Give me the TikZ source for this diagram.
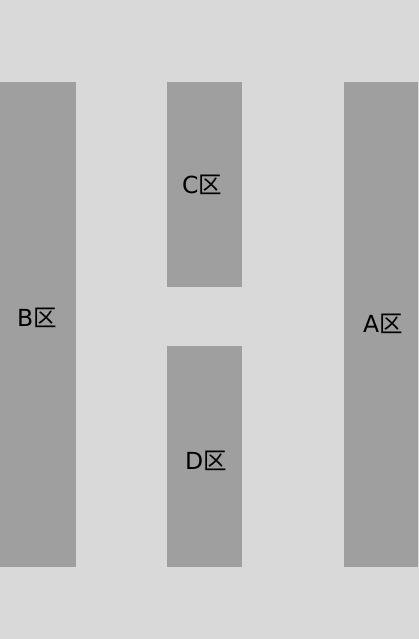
\documentclass[tikz,border=0pt]{standalone}
\usepackage{fontspec}
\setmainfont{DejaVu Sans}
\newfontfamily\cjk{Noto Sans CJK SC}
\usepackage{tikz}
\definecolor{groundgray}{HTML}{D9D9D9}
\definecolor{zonegray}{HTML}{9F9F9F}
\newcommand{\qu}{{\cjk 区}}

\begin{document}
\begin{tikzpicture}[
  x=1pt, y=-1pt,
  zone/.style={fill=zonegray, draw=none},
  zonelabel/.style={font=\fontsize{23.5}{28}\selectfont, inner sep=0pt},
]
  % --- ground ------------------------------------------------------
  \fill[groundgray] (0,0) rectangle (419,639);
  \useasboundingbox (0,0) rectangle (419,639);

  % --- zones -------------------------------------------------------
  \fill[zone] (0,82) rectangle (76,567);    % B
  \fill[zone] (167,82) rectangle (242,287); % C
  \fill[zone] (167,346) rectangle (242,567);% D
  \fill[zone] (344,82) rectangle (418,567); % A

  % --- labels ------------------------------------------------------
  \node[zonelabel] (lblB) at (37,318) {B\qu};
  \node[zonelabel] (lblC) at (202,185) {C\qu};
  \node[zonelabel] (lblD) at (206,461) {D\qu};
  \node[zonelabel] (lblA) at (383,324) {A\qu};
\end{tikzpicture}
\end{document}
